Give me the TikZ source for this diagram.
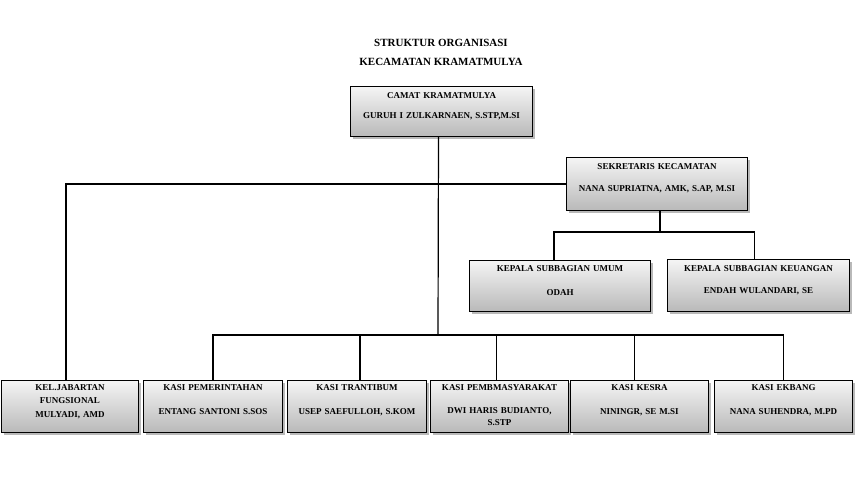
\documentclass[tikz,border=0pt]{standalone}
\usepackage{fontspec}
\setmainfont{Liberation Serif}
\usetikzlibrary{shadows}

\tikzset{
  jabatan/.style={draw=black, line width=1pt, anchor=north west,
    inner xsep=0pt, inner ysep=0pt, align=center,
    top color=gray!8, bottom color=gray!55,
    drop shadow={shadow xshift=2.5pt, shadow yshift=-2.5pt, fill=black!50, opacity=.55},
    font=\bfseries\fontsize{9}{12}\selectfont},
  garis/.style={line width=1.2pt}
}

\begin{document}
\begin{tikzpicture}[x=1pt,y=-1pt]
\useasboundingbox (0,0) rectangle (857,493);

% judul
\node[align=center, font=\bfseries\fontsize{11}{19}\selectfont] (judul) at (441,52)
  {STRUKTUR ORGANISASI\\KECAMATAN KRAMATMULYA};

% pimpinan
\node[jabatan, text width=182pt, text height=11.5pt, text depth=38.5pt] (camat) at (350,86)
  {CAMAT KRAMATMULYA\\[8pt]GURUH I ZULKARNAEN, S.STP,M.SI};
\node[jabatan, text width=181pt, text height=11.5pt, text depth=41.5pt] (sekcam) at (566,157)
  {SEKRETARIS KECAMATAN\\[10pt]NANA SUPRIATNA, AMK, S.AP, M.SI};

% sub bagian
\node[jabatan, text width=181pt, text height=10.5pt, text depth=40.5pt] (umum) at (469,260)
  {KEPALA SUBBAGIAN UMUM\\[12pt]ODAH};
\node[jabatan, text width=182pt, text height=11.5pt, text depth=40.5pt] (keuangan) at (667,259)
  {KEPALA SUBBAGIAN KEUANGAN\\[10pt]ENDAH WULANDARI, SE};

% seksi
\node[jabatan, text width=137pt, text height=9.5pt, text depth=42.5pt] (jafung) at (1,380)
  {KEL.JABARTAN\\[1.5pt]FUNGSIONAL\\[1.5pt]MULYADI, AMD};
\node[jabatan, text width=139pt, text height=9.5pt, text depth=42.5pt] (pemerintahan) at (143,380)
  {KASI PEMERINTAHAN\\[12pt]ENTANG SANTONI S.SOS};
\node[jabatan, text width=139pt, text height=9.5pt, text depth=42.5pt] (trantibum) at (287,380)
  {KASI TRANTIBUM\\[12pt]USEP SAEFULLOH, S.KOM};
\node[jabatan, text width=138pt, text height=9.5pt, text depth=42.5pt] (pembmas) at (430,380)
  {KASI PEMBMASYARAKAT\\[11pt]DWI HARIS BUDIANTO,\\S.STP};
\node[jabatan, text width=138pt, text height=9.5pt, text depth=42.5pt] (kesra) at (570,380)
  {KASI KESRA\\[12pt]NININGR, SE M.SI};
\node[jabatan, text width=138pt, text height=9.5pt, text depth=42.5pt] (ekbang) at (714,380)
  {KASI EKBANG\\[12pt]NANA SUHENDRA, M.PD};

% garis komando
\coordinate (bus) at (438,335);
\draw[garis] ([xshift=-3pt]camat.south) -- (bus);
\draw[garis] ([xshift=-4pt]jafung.north) |- (sekcam.west);
\draw[garis] ([xshift=3pt]sekcam.south) -- ++(0,21) coordinate (cabang);
\draw[garis] ([xshift=-6pt]umum.north) |- (cabang) -| ([xshift=-4pt]keuangan.north);
\draw[garis] (pemerintahan.north) |- (bus) -| (ekbang.north);
\foreach \s/\dx in {trantibum/3,pembmas/-3,kesra/-5}
  \draw[garis] ([xshift=\dx pt]\s.north |- bus) -- ([xshift=\dx pt]\s.north);
\end{tikzpicture}
\end{document}
